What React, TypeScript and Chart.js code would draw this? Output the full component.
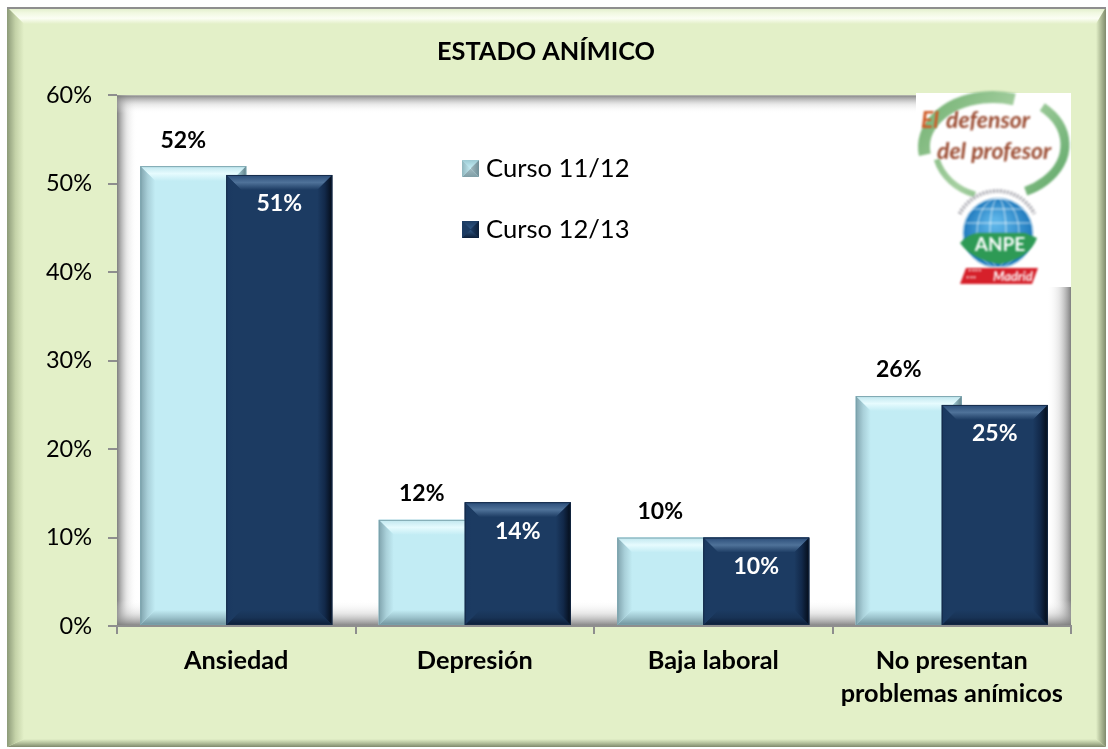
import React, { useEffect, useRef } from "react";
import { Chart, registerables } from "chart.js";

Chart.register(...registerables);

const categories = ["Ansiedad", "Depresión", "Baja laboral", ["No presentan", "problemas anímicos"]];
const curso1112 = [52, 12, 10, 26];
const curso1213 = [51, 14, 10, 25];
const seriesNames = ["Curso 11/12", "Curso 12/13"];
const chartTitle = "ESTADO ANÍMICO";
const FONT = "Lato, Carlito, 'Open Sans', sans-serif";

type Bands = { top: string[]; left: string[]; right: string[]; bottom: string[] };

function bevel(ctx: CanvasRenderingContext2D, x: number, y: number, w: number, h: number, ins: number[], b: Bands) {
  const [it, ir, ib, il] = ins;
  const band = (pts: number[][], g: CanvasGradient, cols: string[]) => {
    cols.forEach((c, i) => g.addColorStop(i / (cols.length - 1), c));
    ctx.fillStyle = g;
    ctx.beginPath();
    pts.forEach((p, i) => (i ? ctx.lineTo(p[0], p[1]) : ctx.moveTo(p[0], p[1])));
    ctx.closePath();
    ctx.fill();
  };
  const x2 = x + w, y2 = y + h;
  band([[x, y], [x2, y], [x2 - ir, y + it], [x + il, y + it]], ctx.createLinearGradient(0, y, 0, y + it), b.top);
  band([[x, y2], [x2, y2], [x2 - ir, y2 - ib], [x + il, y2 - ib]], ctx.createLinearGradient(0, y2, 0, y2 - ib), b.bottom);
  band([[x, y], [x + il, y + it], [x + il, y2 - ib], [x, y2]], ctx.createLinearGradient(x, 0, x + il, 0), b.left);
  band([[x2, y], [x2 - ir, y + it], [x2 - ir, y2 - ib], [x2, y2]], ctx.createLinearGradient(x2, 0, x2 - ir, 0), b.right);
}

const lightBands: Bands = {
  top: ["#BFE6EE", "#E6FBFE", "#C2ECF4"],
  left: ["#7FA3AD", "#A9D0D9", "#C2ECF4"],
  right: ["#5F7F88", "#9CC2CB", "#C2ECF4"],
  bottom: ["#6F929C", "#9CC3CC", "#C2ECF4"],
};
const darkBands: Bands = {
  top: ["#2A4C78", "#4F7299", "#1C3B62"],
  left: ["#1A3860", "#1C3B62", "#1C3B62"],
  right: ["#040C18", "#12294A", "#1C3B62"],
  bottom: ["#0C1E38", "#183356", "#1C3B62"],
};

const panelPlugin = {
  id: "panel",
  beforeDraw(chart: any) {
    const ctx = chart.ctx as CanvasRenderingContext2D;
    const { left, top, right, bottom } = chart.chartArea;
    ctx.save();
    const px = 7, py = 7, pw = 1099, ph = 740;
    ctx.fillStyle = "#E3F0C8";
    ctx.fillRect(px, py, pw, ph);
    bevel(ctx, px, py, pw, ph, [17, 10, 8, 17], {
      top: ["#DDEBC4", "#F0F8E0", "#FBFEF4", "#E3F0C8"],
      left: ["#8C9A78", "#C4D2A8", "#E3F0C8"],
      right: ["#7F8A6C", "#AEBB96", "#E3F0C8"],
      bottom: ["#7F8A6C", "#B4C19C", "#E3F0C8"],
    });
    ctx.fillStyle = "#8E8E8E";
    ctx.fillRect(px, py, pw, 2);
    const w = right - left, h = bottom - top;
    ctx.fillStyle = "#FFFFFF";
    ctx.fillRect(left, top, w, h);
    const s = (x0: number, y0: number, x1: number, y1: number, rx: number, ry: number, rw: number, rh: number, c: string) => {
      const g = ctx.createLinearGradient(x0, y0, x1, y1);
      g.addColorStop(0, c);
      g.addColorStop(0.5, "rgba(190,190,190,0.35)");
      g.addColorStop(1, "rgba(255,255,255,0)");
      ctx.fillStyle = g;
      ctx.fillRect(rx, ry, rw, rh);
    };
    s(left, 0, left + 20, 0, left, top, 20, h, "rgba(120,120,120,0.95)");
    s(right, 0, right - 24, 0, right - 24, top, 24, h, "rgba(120,120,120,0.95)");
    s(0, top, 0, top + 18, left, top, w, 18, "rgba(120,120,120,0.9)");
    s(0, bottom, 0, bottom - 26, left, bottom - 26, w, 26, "rgba(120,120,120,0.95)");
    ctx.restore();
  },
};

function drawLogo(ctx: CanvasRenderingContext2D) {
  ctx.save();
  ctx.fillStyle = "#FFFFFF";
  ctx.fillRect(916, 93, 155, 194);
  ctx.filter = "blur(0.8px)";
  const green = ctx.createLinearGradient(920, 90, 1060, 200);
  green.addColorStop(0, "#6FAF6F");
  green.addColorStop(0.5, "#A5CFA0");
  green.addColorStop(1, "#5FA868");
  ctx.strokeStyle = green;
  ctx.lineCap = "butt";
  ctx.lineWidth = 12;
  ctx.beginPath();
  ctx.ellipse(993, 147, 69, 50, 0, Math.PI * 0.95, Math.PI * 1.6);
  ctx.stroke();
  ctx.lineWidth = 9;
  ctx.beginPath();
  ctx.ellipse(993, 145, 72, 52, 0, Math.PI * 1.74, Math.PI * 2.35);
  ctx.stroke();
  ctx.lineWidth = 6;
  ctx.beginPath();
  ctx.ellipse(993, 147, 58, 50, 0, Math.PI * 0.6, Math.PI * 0.92);
  ctx.stroke();
  ctx.font = `italic bold 23px ${FONT}`;
  ctx.textAlign = "left";
  ctx.textBaseline = "alphabetic";
  ctx.fillStyle = "#CE5A26";
  ctx.fillText("El", 921, 128);
  ctx.fillStyle = "#9A4A30";
  ctx.fillText("defensor", 946, 128);
  ctx.fillText("del profesor", 937, 159);
  const blue = ctx.createRadialGradient(995, 222, 4, 998, 233, 36);
  blue.addColorStop(0, "#5CB4E8");
  blue.addColorStop(1, "#1E78BC");
  ctx.fillStyle = blue;
  ctx.beginPath();
  ctx.arc(998, 233, 35, 0, Math.PI * 2);
  ctx.fill();
  ctx.strokeStyle = "rgba(255,255,255,0.75)";
  ctx.lineWidth = 1;
  [35, 21, 8].forEach((r) => {
    ctx.beginPath();
    ctx.ellipse(998, 233, r, 35, 0, 0, Math.PI * 2);
    ctx.stroke();
  });
  [-24, -10].forEach((d) => {
    ctx.beginPath();
    ctx.moveTo(966, 233 + d);
    ctx.lineTo(1030, 233 + d);
    ctx.stroke();
  });
  ctx.strokeStyle = "#A9A9B0";
  ctx.lineWidth = 4;
  ctx.setLineDash([2, 1.5]);
  ctx.beginPath();
  ctx.arc(997, 233, 42, Math.PI * 1.15, Math.PI * 1.85);
  ctx.stroke();
  ctx.setLineDash([]);
  ctx.fillStyle = "#2E9A55";
  ctx.beginPath();
  ctx.moveTo(960, 243);
  ctx.quadraticCurveTo(968, 234, 978, 233);
  ctx.lineTo(1025, 233);
  ctx.lineTo(1037, 238);
  ctx.quadraticCurveTo(1030, 258, 1000, 264);
  ctx.quadraticCurveTo(972, 260, 960, 243);
  ctx.fill();
  ctx.fillStyle = "#FFFFFF";
  ctx.font = `bold 19px ${FONT}`;
  ctx.textAlign = "center";
  ctx.fillText("ANPE", 1000, 251);
  ctx.fillStyle = "#D6202A";
  ctx.beginPath();
  ctx.moveTo(966, 268);
  ctx.lineTo(1038, 268);
  ctx.lineTo(1032, 284);
  ctx.lineTo(960, 284);
  ctx.closePath();
  ctx.fill();
  ctx.fillStyle = "#FFFFFF";
  ctx.font = `bold 8px ${FONT}`;
  ctx.textAlign = "left";
  ctx.fillText("****", 968, 275);
  ctx.fillText("***", 966, 282);
  ctx.font = `italic bold 13px ${FONT}`;
  ctx.fillText("Madrid", 993, 281);
  ctx.restore();
}

const overlayPlugin = {
  id: "overlay",
  afterDatasetsDraw(chart: any) {
    const ctx = chart.ctx as CanvasRenderingContext2D;
    ctx.save();
    // paint in series order so the second series overlaps the first
    [0, 1].forEach((index) => {
      const bands = index === 0 ? lightBands : darkBands;
      chart.getDatasetMeta(index).data.forEach((bar: any) => {
        bar.draw(ctx);
        const x = bar.x - bar.width / 2;
        const h = bar.base - bar.y;
        bevel(ctx, x, bar.y, bar.width, h, [15, 15, 15, 15], bands);
        ctx.strokeStyle = index === 0 ? "rgba(120,160,170,0.9)" : "rgba(20,40,70,0.9)";
        ctx.lineWidth = 1;
        ctx.strokeRect(x + 0.5, bar.y + 0.5, bar.width - 1, h - 1);
      });
    });
    ctx.font = `bold 23px ${FONT}`;
    ctx.textAlign = "center";
    ctx.textBaseline = "middle";
    chart.getDatasetMeta(0).data.forEach((bar: any, i: number) => {
      ctx.fillStyle = "#000000";
      ctx.fillText(`${curso1112[i]}%`, bar.x - 10, bar.y - 26);
    });
    chart.getDatasetMeta(1).data.forEach((bar: any, i: number) => {
      ctx.fillStyle = "#FFFFFF";
      ctx.fillText(`${curso1213[i]}%`, bar.x, bar.y + 29);
    });
    const rows = [169, 230];
    chart.data.datasets.forEach((ds: any, i: number) => {
      const y = rows[i];
      ctx.fillStyle = i === 0 ? "#C2ECF4" : "#1C3B62";
      ctx.fillRect(462, y - 9, 17, 17);
      bevel(ctx, 462, y - 9, 17, 17, [8, 8, 8, 8], i === 0
        ? { top: ["#9CCAD3", "#C2ECF4"], left: ["#8FB6BE", "#BFE6EE"], right: ["#6F8F98", "#9FB8BE"], bottom: ["#7E9EA6", "#9FB8BE"] }
        : { top: ["#1C3B62", "#2E5480"], left: ["#1C3B62", "#1C3B62"], right: ["#0C1E38", "#1C3B62"], bottom: ["#0C1E38", "#2E5480"] });
      ctx.fillStyle = "#000000";
      ctx.font = `25.6px ${FONT}`;
      ctx.textAlign = "left";
      ctx.fillText(ds.label, 486, y);
    });
    drawLogo(ctx);
    ctx.restore();
  },
};

export default function App() {
  const ref = useRef<HTMLCanvasElement>(null);
  useEffect(() => {
    const chart = new Chart(ref.current as HTMLCanvasElement, {
      type: "bar",
      data: {
        labels: categories as any,
        datasets: [
          { label: seriesNames[0], data: curso1112, backgroundColor: "#C2ECF4" },
          { label: seriesNames[1], data: curso1213, backgroundColor: "#1C3B62" },
        ],
      },
      plugins: [panelPlugin, overlayPlugin],
      options: {
        animation: false,
        responsive: false,
        layout: { padding: { left: 21, right: 37, top: 37, bottom: 0 } },
        datasets: { bar: { categoryPercentage: 172 / 238.5, barPercentage: 106 / 86 } },
        plugins: {
          legend: { display: false },
          tooltip: { enabled: false },
          title: {
            display: true,
            text: chartTitle,
            color: "#000000",
            font: { family: FONT, size: 25.3, weight: "bold" },
            padding: { top: 0, bottom: 28 },
          },
        },
        scales: {
          x: {
            grid: { drawOnChartArea: false, color: "#8E8E8E", tickLength: 8, lineWidth: 2, offset: true },
            border: { color: "#8E8E8E", width: 2 },
            ticks: {
              color: "#000000",
              font: { family: FONT, size: 25.3, weight: "bold", lineHeight: 1.32 },
              maxRotation: 0,
              autoSkip: false,
              padding: 10,
            },
            afterFit: (s: any) => { s.height = 123; },
          },
          y: {
            min: 0,
            max: 60,
            grid: { drawOnChartArea: false, color: "#8E8E8E", tickLength: 9, lineWidth: 2 },
            border: { display: false },
            ticks: {
              stepSize: 10,
              color: "#000000",
              font: { family: FONT, size: 23.5 },
              padding: 16,
              callback: (v: any) => `${v}%`,
            },
            afterFit: (s: any) => { s.width = 96; },
          },
        },
      },
    } as any);
    return () => chart.destroy();
  }, []);
  return (
    <div style={{ position: "absolute", left: 0, top: 0, width: 1108, height: 749, background: "#FFFFFF" }}>
      <canvas ref={ref} width={1108} height={749} style={{ display: "block" }} />
    </div>
  );
}
